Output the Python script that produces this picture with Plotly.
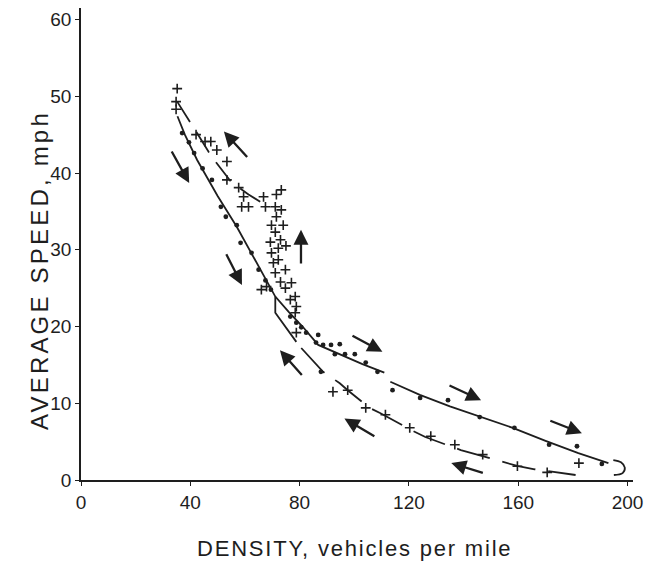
import plotly.graph_objects as go

# ---------------- data (density veh/mile, speed mph) ----------------
# fitted curve through the "dot" observations (solid line)
dot_line_a_x = [35.3, 38.0, 42.5, 50.0, 57.0, 64.0, 71.1, 76.0, 81.3, 86.8, 95.0, 103.0, 111.0]
dot_line_a_y = [47.4, 45.0, 41.7, 37.0, 33.0, 28.4, 23.9, 21.9, 19.9, 17.6, 16.3, 15.1, 14.0]
dot_line_b_x = [113.2, 124.0, 135.0, 146.0, 158.0, 170.0, 182.0, 193.0]
dot_line_b_y = [12.8, 11.1, 9.6, 8.3, 6.8, 5.1, 3.5, 2.2]

# fitted curve through the "+" observations
plus_solid_x = [71.1, 71.1, 78.8]
plus_solid_y = [23.9, 21.8, 18.0]
plus_lower_x = [80.6, 88.6, 94.7, 97.6, 105.6, 109.6, 120.9, 126.0, 139.0, 146.0, 160.0, 166.0, 181.0]
plus_lower_y = [17.2, 14.1, 12.6, 11.7, 9.4, 8.7, 6.5, 5.6, 3.9, 3.2, 1.8, 1.4, 0.65]
plus_upper_x = [35.2, 39.6, 42.1, 46.8, 49.4, 54.8, 61.3, 68.6]
plus_upper_y = [49.3, 46.9, 45.4, 42.7, 41.4, 38.9, 37.2, 35.6]

# observations, dots
dot_x = [37.0, 39.5, 41.4, 44.5, 47.9, 51.2, 53.0, 57.0, 58.4, 62.4, 65.0, 67.5, 69.5,
         76.6, 78.8, 80.6, 82.4, 86.0, 86.8, 88.6, 91.5, 94.7, 92.9, 96.6, 100.2, 104.2,
         108.5, 87.8, 114.0, 124.1, 134.3, 145.9, 158.6, 171.3, 181.5, 190.6]
dot_y = [45.2, 44.0, 42.6, 40.6, 39.1, 35.6, 34.3, 33.2, 30.9, 29.6, 27.4, 26.0, 24.8,
         21.3, 20.5, 19.9, 19.2, 17.9, 18.9, 17.6, 17.6, 17.7, 16.4, 16.4, 16.4, 15.3,
         14.1, 14.1, 11.7, 10.7, 10.4, 8.2, 6.8, 4.6, 4.4, 2.1]

# observations, pluses
plus_x = [35.2, 34.8, 34.8, 42.1, 45.4, 47.5, 49.7, 53.4, 53.4, 57.7, 59.5, 66.8, 71.5,
          58.8, 61.3, 67.5, 71.1, 73.3, 71.5, 69.7, 74.0, 71.1, 73.0, 69.3, 72.2, 69.7,
          72.2, 70.4, 74.8, 71.1, 73.0, 77.0, 74.8, 78.4, 76.6, 78.8, 78.4, 67.9, 66.0,
          73.3, 75.0, 78.8, 92.2, 97.6, 104.2, 111.4, 120.3, 128.0, 136.8, 147.0, 159.7,
          170.6, 182.2]
plus_y = [51.0, 49.3, 48.3, 45.0, 44.1, 44.1, 43.0, 41.5, 39.1, 38.1, 36.9, 36.9, 37.2,
          35.6, 35.6, 35.6, 35.6, 37.8, 34.3, 33.2, 33.2, 32.3, 31.3, 31.0, 30.2, 29.6,
          28.7, 28.3, 27.4, 27.0, 25.8, 25.7, 25.0, 23.9, 23.5, 22.6, 21.8, 25.2, 24.8,
          35.2, 30.5, 19.2, 11.5, 11.7, 9.4, 8.5, 6.8, 5.7, 4.6, 3.3, 1.8, 1.0, 2.2]

# direction arrows (tail -> head)
arrow_tail_x = [32.9, 61.3, 80.5, 52.9, 81.3, 98.8, 107.9, 134.3, 147.6, 171.2]
arrow_tail_y = [43.0, 41.9, 28.0, 29.6, 13.5, 18.9, 5.6, 12.4, 0.87, 7.8]
arrow_head_x = [39.6, 52.3, 80.5, 58.9, 72.8, 110.3, 96.4, 146.4, 135.5, 183.3]
arrow_head_y = [38.7, 45.4, 32.6, 25.4, 16.9, 16.7, 8.0, 10.4, 2.2, 6.1]

# small hook at the end of the loop
hook_x = [194.8, 197.6, 199.0, 198.2, 195.0]
hook_y = [2.6, 2.3, 1.6, 0.9, 0.65]

x_ticks = [0, 40, 80, 120, 160, 200]
y_ticks = [0, 10, 20, 30, 40, 50, 60]

x_title = "DENSITY, vehicles per mile"
y_title = "AVERAGE SPEED, mph"

INK = "#1e1e1e"
FONT = "Liberation Sans, Arial, sans-serif"

fig = go.Figure()

def line(xs, ys, dash="solid"):
    fig.add_trace(go.Scatter(x=xs, y=ys, mode="lines", line=dict(color=INK, width=1.8, dash=dash),
                             hoverinfo="skip", showlegend=False))

line(dot_line_a_x, dot_line_a_y)
line(dot_line_b_x, dot_line_b_y)
line(plus_solid_x, plus_solid_y)
line(plus_lower_x, plus_lower_y, "34px,13px")
line(plus_upper_x, plus_upper_y, "24px,12px")
fig.add_trace(go.Scatter(x=hook_x, y=hook_y, mode="lines", line=dict(color=INK, width=1.8, shape="spline"),
                         hoverinfo="skip", showlegend=False))

fig.add_trace(go.Scatter(x=dot_x, y=dot_y, mode="markers",
                         marker=dict(symbol="circle", size=4.8, color=INK), showlegend=False))
fig.add_trace(go.Scatter(x=plus_x, y=plus_y, mode="markers",
                         marker=dict(symbol="cross-thin", size=7, color=INK, line=dict(color=INK, width=1.6)),
                         showlegend=False))

annotations = []
for tx, ty, hx, hy in zip(arrow_tail_x, arrow_tail_y, arrow_head_x, arrow_head_y):
    annotations.append(dict(x=hx, y=hy, ax=tx, ay=ty, xref="x", yref="y", axref="x", ayref="y",
                            text="", showarrow=True, arrowhead=2, arrowsize=1.3, arrowwidth=2.3,
                            arrowcolor=INK, standoff=0, startstandoff=0))

annotations.append(dict(text=f'<span style="letter-spacing:1.8px">{x_title}</span>',
                        xref="paper", yref="paper", x=0.4955, y=0,
                        xanchor="center", yanchor="top", yshift=-54, showarrow=False,
                        font=dict(family=FONT, size=22, color=INK)))
annotations.append(dict(text=f'<span style="letter-spacing:3.2px">{y_title}</span>',
                        xref="paper", yref="paper", x=0, y=0.445,
                        xanchor="center", yanchor="middle", xshift=-41, textangle=-90, showarrow=False,
                        font=dict(family=FONT, size=24, color=INK)))

fig.update_layout(
    width=651, height=563,
    margin=dict(l=81, r=13, t=8, b=83),
    paper_bgcolor="white", plot_bgcolor="white",
    annotations=annotations,
    font=dict(family=FONT, color=INK),
)
fig.update_xaxes(range=[0, 202], tickvals=x_ticks, showgrid=False, zeroline=False,
                 showline=True, linecolor=INK, linewidth=1.6, ticks="outside", ticklen=4,
                 tickcolor=INK, tickwidth=1.4, tickfont=dict(family=FONT, size=19, color=INK))
fig.update_yaxes(range=[0, 61.5], tickvals=y_ticks, showgrid=False, zeroline=False,
                 showline=True, linecolor=INK, linewidth=1.6, ticks="outside", ticklen=4,
                 tickcolor=INK, tickwidth=1.4, tickfont=dict(family=FONT, size=19, color=INK))

# remove the default page margin so the 651x563 figure fills the window exactly
fig.write_html("out.html", config={"displayModeBar": False},
               post_script="document.body.style.margin='0';document.body.style.overflow='hidden';")
